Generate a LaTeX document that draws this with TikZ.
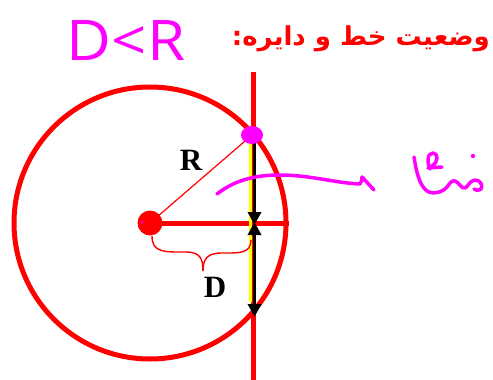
\documentclass[tikz,border=0pt]{standalone}
\usepackage{fontspec}
\setmainfont{Liberation Serif}
\newfontfamily\arabicfont[Script=Arabic]{DejaVu Sans}
\newfontfamily\handfont{Open Sans}
\TeXXeTstate=1
\usetikzlibrary{arrows.meta}
\definecolor{pred}{RGB}{255,0,0}
\definecolor{pmag}{RGB}{255,0,255}
\definecolor{pyel}{RGB}{255,255,0}
\tikzset{
  thickred/.style={draw=pred, line width=5pt},
  pen/.style={draw=pmag, line width=3.5pt, line cap=round, line join=round},
  blackarrow/.style={draw=black, line width=3.5pt, -{Triangle[length=13pt,width=13pt]}},
}
\begin{document}
\begin{tikzpicture}[x=1pt,y=-1pt]
\useasboundingbox (0,0) rectangle (493,380);
% key points
\coordinate (O) at (150,223);
\coordinate (P) at (252,135);
\coordinate (E) at (289,223);
\coordinate (Ltop) at (253,72);
\coordinate (Lbot) at (253,380);
% circle
\draw[thickred] (O) circle[radius=136];
% line
\draw[thickred] (Ltop) -- (Lbot);
\draw[thickred] (O) -- (E);
% radius
\draw[pred, line width=1.2pt] (O) -- (P);
% yellow highlight
\draw[pyel, line width=3pt] (250,142) -- (250,302);
% arrows
\draw[blackarrow] (254.5,140) -- (254.5,225);
\draw[blackarrow, {Triangle[length=13pt,width=13pt]}-{Triangle[length=13pt,width=13pt]}] (254.5,222) -- (254.5,317);
% dots
\fill[pmag] (P) ellipse[x radius=11, y radius=9];
\fill[pred] (O) circle[radius=12.5];
\fill[pmag] (142,222) circle[radius=1.5];
% brace
\draw[pred, line width=1.4pt] (152,236) .. controls (152,253) and (165,252) .. (185,252)
  .. controls (200,252) and (203,258) .. (203,271);
\draw[pred, line width=1.4pt] (251,240) .. controls (251,254) and (238,253) .. (222,253)
  .. controls (207,253) and (203,259) .. (203,271);
% labels
\node[font=\bfseries\fontsize{31}{32}\selectfont, inner sep=0pt] (Rl) at (191,160) {R};
\node[font=\bfseries\fontsize{31}{32}\selectfont, inner sep=0pt] (Dl) at (215,287) {D};
% title
\node[anchor=east, inner sep=0pt, text=pred, font=\arabicfont\bfseries\fontsize{26}{28}\selectfont] (title) at (490,39) {\beginR وضعیت خط و دایره:\endR};
% handwritten D<R
\node[text=pmag, font=\handfont\fontsize{56}{58}\selectfont, inner sep=0pt, xscale=1.1] (dr) at (126,41) {D<R};
% magenta pointer stroke
\draw[pen] (217,194) .. controls (235,180) and (255,175) .. (280,175)
  .. controls (310,175) and (335,183) .. (360,184)
  .. controls (362,182) and (362,179) .. (362,177)
  -- (374,190);
% handwritten scribble on the right
\draw[pen] (414,157) .. controls (416,170) and (419,185) .. (427,191)
  .. controls (433,195) and (443,192) .. (447,187)
  .. controls (450,183) and (452,180) .. (455,181)
  .. controls (459,182) and (461,189) .. (465,188)
  .. controls (468,187) and (469,181) .. (475,180)
  .. controls (481,180) and (483,186) .. (481,189)
  .. controls (479,191) and (476,191) .. (474,189);
\draw[pen] (430,169) .. controls (427,163) and (427,153) .. (433,153)
  .. controls (439,153) and (438,163) .. (432,166)
  .. controls (429,167) and (428,168) .. (428,168) -- (442,167);
\fill[pmag] (473,156) circle[radius=2.2];
\end{tikzpicture}
\end{document}
